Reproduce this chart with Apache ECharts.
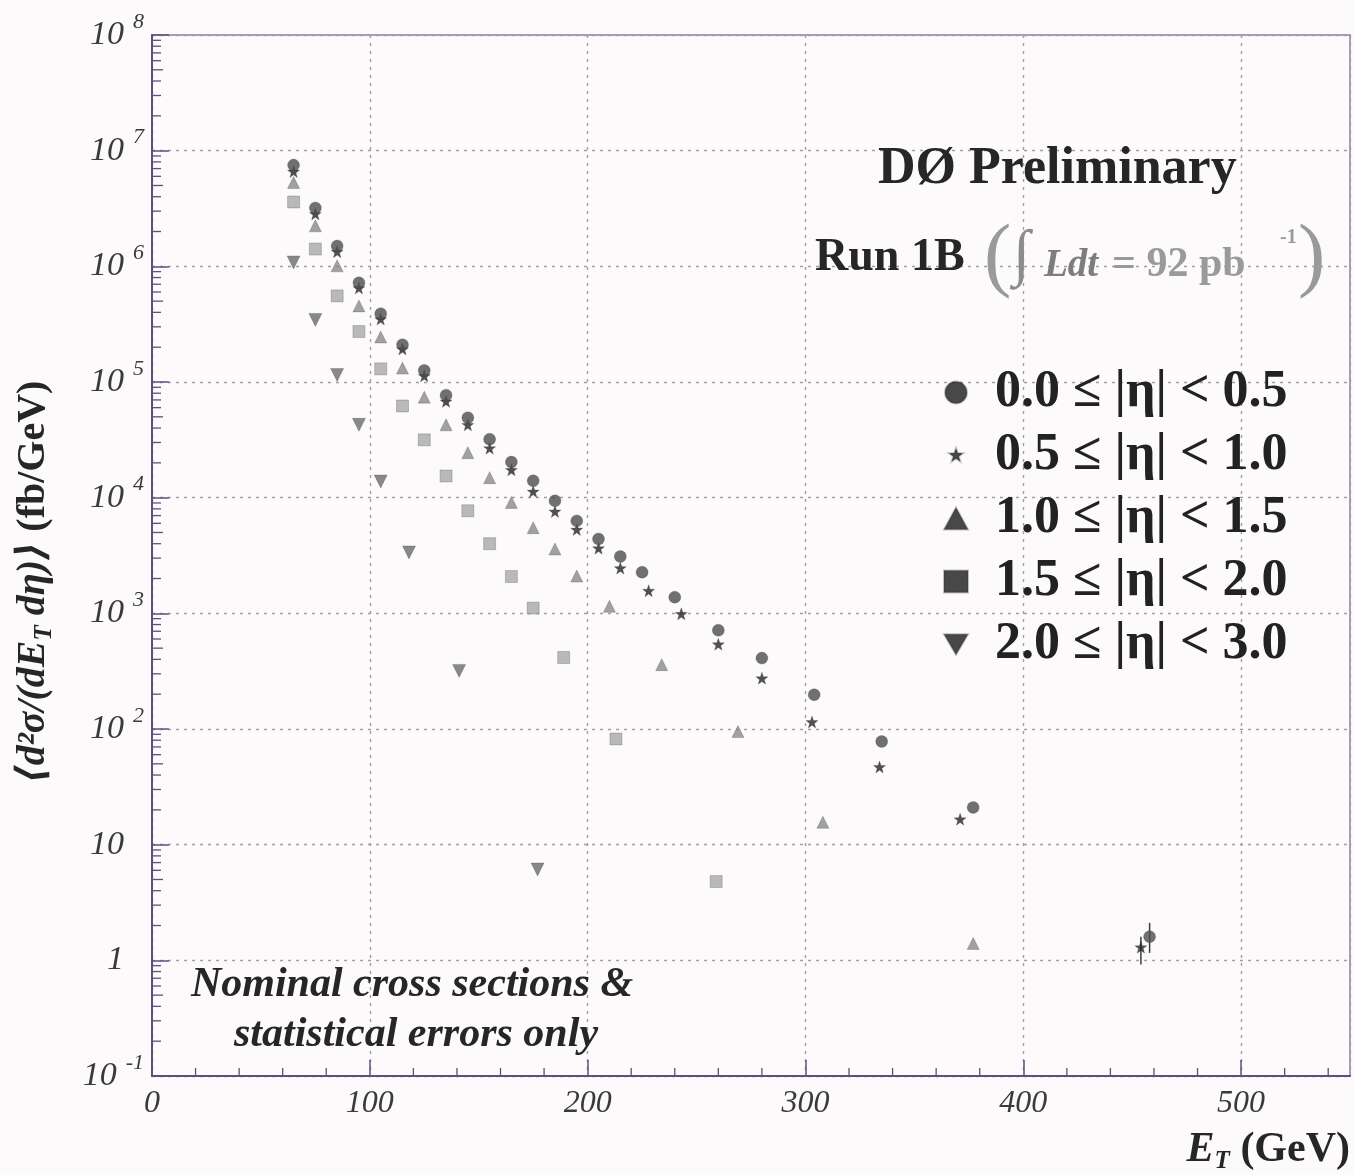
<!DOCTYPE html>
<html>
<head>
<meta charset="utf-8">
<script src="https://cdn.jsdelivr.net/npm/echarts@6/dist/echarts.min.js"></script>
<style>
  html, body { margin: 0; padding: 0; background: #fcfafa; }
  #chart { width: 1355px; height: 1175px; }
</style>
</head>
<body>
<div id="chart"></div>
<script>
// Inclusive jet cross sections vs E_T, five pseudorapidity bands (fb/GeV)
const etaLabels = [
  '0.0 \u2264 |\u03b7| < 0.5',
  '0.5 \u2264 |\u03b7| < 1.0',
  '1.0 \u2264 |\u03b7| < 1.5',
  '1.5 \u2264 |\u03b7| < 2.0',
  '2.0 \u2264 |\u03b7| < 3.0'
];

const eta00ET = [65, 75, 85, 95, 105, 115, 125, 135, 145, 155, 165, 175, 185, 195, 205, 215, 225, 240, 260, 280, 304, 335, 377, 458];
const eta00XS = [7.5e6, 3.2e6, 1.5e6, 7.2e5, 3.9e5, 2.1e5, 1.26e5, 7.7e4, 4.9e4, 3.2e4, 2.03e4, 1.4e4, 9.4e3, 6.3e3, 4.4e3, 3.1e3, 2.27e3, 1.38e3, 715, 410, 198, 78, 21, 1.6];

const eta05ET = [65, 75, 85, 95, 105, 115, 125, 135, 145, 155, 165, 175, 185, 195, 205, 215, 228, 243, 260, 280, 303, 334, 371, 454];
const eta05XS = [6.6e6, 2.84e6, 1.34e6, 6.5e5, 3.5e5, 1.93e5, 1.13e5, 6.8e4, 4.26e4, 2.68e4, 1.74e4, 1.13e4, 7.6e3, 5.3e3, 3.66e3, 2.46e3, 1.57e3, 990, 540, 275, 115, 47, 16.6, 1.3];

const eta10ET = [65, 75, 85, 95, 105, 115, 125, 135, 145, 155, 165, 175, 185, 195, 210, 234, 269, 308, 377];
const eta10XS = [5.3e6, 2.24e6, 1.01e6, 4.55e5, 2.45e5, 1.32e5, 7.4e4, 4.26e4, 2.45e4, 1.49e4, 9.1e3, 5.5e3, 3.6e3, 2.1e3, 1.15e3, 360, 95, 15.6, 1.4];

const eta15ET = [65, 75, 85, 95, 105, 115, 125, 135, 145, 155, 165, 175, 189, 213, 259];
const eta15XS = [3.6e6, 1.41e6, 5.55e5, 2.73e5, 1.3e5, 6.2e4, 3.16e4, 1.54e4, 7.7e3, 4.0e3, 2.08e3, 1.11e3, 415, 82, 4.8];

const eta20ET = [65, 75, 85, 95, 105, 118, 141, 177];
const eta20XS = [1.08e6, 3.44e5, 1.15e5, 4.26e4, 1.38e4, 3.36e3, 318, 6.1];

// statistical error bars visible on the highest-E_T points: [E_T, low, high]
const errorBars = [[458, 1.16, 2.11], [454, 0.92, 1.6]];

// axis decoration
const xTickValues = [0, 100, 200, 300, 400, 500];
const xMinorSteps = [20, 40, 60, 80];
const yDecades = [-1, 0, 1, 2, 3, 4, 5, 6, 7];
const yMinorMantissas = [2, 3, 4, 5, 6, 7, 8, 9];

const SERIF = "'Liberation Serif', 'DejaVu Serif', 'Times New Roman', serif";
const AXIS_COLOR = '#5d4f7e';
const GRID_COLOR = '#a39cb0';

const STAR = 'path://M0,-10L2.35,-3.24L9.51,-3.09L3.8,1.24L5.88,8.09L0,4L-5.88,8.09L-3.8,1.24L-9.51,-3.09L-2.35,-3.24Z';
const STAR_LEGEND = 'path://M-15,-15M15,15M0,-10L2.35,-3.24L9.51,-3.09L3.8,1.24L5.88,8.09L0,4L-5.88,8.09L-3.8,1.24L-9.51,-3.09L-2.35,-3.24Z';
const DOWN_TRI = 'path://M-10,-8L10,-8L0,9Z';

const pairs = (xs, ys) => xs.map((x, i) => [x, ys[i]]);

const xMinorTicks = [];
xTickValues.forEach(t => xMinorSteps.forEach(s => { if (t + s < 550) xMinorTicks.push([t + s, 1e8]); }));
const yMinorTicks = [];
yDecades.forEach(d => yMinorMantissas.forEach(m => yMinorTicks.push([0, m * Math.pow(10, d)])));

function scatter(name, xs, ys, symbol, size, color, z) {
  return {
    name, type: 'scatter', data: pairs(xs, ys), symbol, symbolSize: size, z,
    itemStyle: { color, borderColor: 'rgba(40,40,40,0.35)', borderWidth: 0.8 },
    emphasis: { disabled: true }
  };
}

const chart = echarts.init(document.getElementById('chart'), null, { renderer: 'canvas' });

const option = {
  backgroundColor: '#fcfafa',
  animation: false,
  grid: {
    left: 152, right: 5, top: 35, bottom: 99,
    show: true, borderColor: '#8d7f9f', borderWidth: 1.5, backgroundColor: 'transparent'
  },
  legend: {
    orient: 'vertical', left: 938, top: 356,
    itemWidth: 24, itemHeight: 22, itemGap: 0,
    selectedMode: false,
    textStyle: {
      fontFamily: SERIF, fontWeight: 'bold', fontSize: 52, color: '#222',
      lineHeight: 63, padding: [0, 0, 0, 22]
    },
    data: [
      { name: etaLabels[0], icon: 'circle', itemStyle: { color: '#1b1b1b' } },
      { name: etaLabels[1], icon: STAR_LEGEND, itemStyle: { color: '#1b1b1b' } },
      { name: etaLabels[2], icon: 'triangle', itemStyle: { color: '#1b1b1b' } },
      { name: etaLabels[3], icon: 'rect', itemStyle: { color: '#1b1b1b' } },
      { name: etaLabels[4], icon: DOWN_TRI, itemStyle: { color: '#1b1b1b' } }
    ]
  },
  xAxis: {
    type: 'value', min: 0, max: 550, interval: 100,
    axisLine: { show: true, lineStyle: { color: AXIS_COLOR, width: 2 } },
    axisTick: { show: true, inside: true, length: 16, lineStyle: { color: AXIS_COLOR, width: 1.5 } },
    minorTick: { show: false },
    splitLine: { show: true, lineStyle: { color: GRID_COLOR, width: 1.4, type: [3, 5] } },
    axisLabel: {
      showMaxLabel: false, margin: 12,
      fontFamily: SERIF, fontStyle: 'italic', fontSize: 32, color: '#3a3a3a'
    }
  },
  yAxis: {
    type: 'log', logBase: 10, min: 0.1, max: 1e8, splitNumber: 9,
    axisLine: { show: true, lineStyle: { color: AXIS_COLOR, width: 2 } },
    axisTick: { show: true, inside: true, length: 17, lineStyle: { color: AXIS_COLOR, width: 1.5 } },
    minorTick: { show: false },
    splitLine: { show: true, lineStyle: { color: GRID_COLOR, width: 1.4, type: [3, 5] } },
    axisLabel: {
      margin: 8,
      formatter: v => {
        const e = Math.round(Math.log10(v));
        if (e === 0) return '{b|1}{e|\u2007}';
        if (e === 1) return '{b|10}{e|\u2007}';
        return '{b|10}{e|' + (e < 0 ? '-' + (-e) : e) + '}';
      },
      rich: {
        b: { fontFamily: SERIF, fontStyle: 'italic', fontSize: 34, color: '#3a3a3a', lineHeight: 48 },
        e: { fontFamily: SERIF, fontStyle: 'italic', fontSize: 22, color: '#3a3a3a', verticalAlign: 'top', padding: [0, 0, 0, 9] }
      }
    }
  },
  series: [
    scatter(etaLabels[0], eta00ET, eta00XS, 'circle', 12, '#4e4e4e', 6),
    scatter(etaLabels[1], eta05ET, eta05XS, STAR, 12, '#262626', 5),
    scatter(etaLabels[2], eta10ET, eta10XS, 'triangle', 12, '#8b8b8b', 4),
    scatter(etaLabels[3], eta15ET, eta15XS, 'rect', 12, '#a9a9a9', 3),
    scatter(etaLabels[4], eta20ET, eta20XS, DOWN_TRI, 13, '#6c6c6c', 4),
    {
      // vertical statistical error bars
      type: 'custom', z: 4, silent: true, data: errorBars,
      renderItem: (params, api) => {
        const lo = api.coord([api.value(0), api.value(1)]);
        const hi = api.coord([api.value(0), api.value(2)]);
        return { type: 'line', shape: { x1: lo[0], y1: lo[1], x2: hi[0], y2: hi[1] },
                 style: { stroke: '#3c3c3c', lineWidth: 1.5 } };
      }
    },
    {
      // minor ticks along the log axis (2..9 per decade)
      type: 'custom', z: 3, silent: true, clip: false, data: yMinorTicks,
      renderItem: (params, api) => {
        const p = api.coord([api.value(0), api.value(1)]);
        const len = api.value(1) / Math.pow(10, Math.floor(Math.log10(api.value(1)) + 1e-9)) === 5 ? 11 : 9;
        return { type: 'line', shape: { x1: p[0], y1: p[1], x2: p[0] + len, y2: p[1] },
                 style: { stroke: AXIS_COLOR, lineWidth: 1.3 } };
      }
    },
    {
      // minor ticks along E_T every 20 GeV
      type: 'custom', z: 3, silent: true, clip: false, data: xMinorTicks,
      renderItem: (params, api) => {
        const p = api.coord([api.value(0), 0.1]);
        return { type: 'line', shape: { x1: p[0], y1: p[1], x2: p[0], y2: p[1] - 8 },
                 style: { stroke: AXIS_COLOR, lineWidth: 1.3 } };
      }
    }
  ],
  graphic: [
    {
      type: 'text', left: 878, top: 144, z: 10,
      style: { text: 'D\u00d8 Preliminary', font: 'bold 52px ' + SERIF, fill: '#262626' }
    },
    {
      type: 'text', left: 815, top: 235, z: 10,
      style: { text: 'Run 1B', font: 'bold 46px ' + SERIF, fill: '#262626' }
    },
    {
      type: 'text', left: 984, top: 218, z: 10,
      style: { text: '(', font: '82px ' + SERIF, fill: '#9a9a9a' }
    },
    {
      type: 'text', left: 1013, top: 226, z: 10,
      style: { text: '\u222b', font: '62px ' + SERIF, fill: '#8c8c8c' }
    },
    {
      type: 'text', left: 1044, top: 246, z: 10,
      style: { text: 'Ldt', font: 'italic bold 39px ' + SERIF, fill: '#7d7d7d' }
    },
    {
      type: 'text', left: 1112, top: 244, z: 10,
      style: { text: '= 92 pb', font: 'bold 42px ' + SERIF, fill: '#9a9a9a' }
    },
    {
      type: 'text', left: 1280, top: 228, z: 10,
      style: { text: '-1', font: 'bold 20px ' + SERIF, fill: '#9a9a9a' }
    },
    {
      type: 'text', left: 1298, top: 218, z: 10,
      style: { text: ')', font: '82px ' + SERIF, fill: '#9a9a9a' }
    },
    {
      type: 'text', x: 412, y: 985, z: 10,
      style: { text: 'Nominal cross sections &', font: 'italic bold 42px ' + SERIF, fill: '#262626',
               align: 'center', verticalAlign: 'middle' }
    },
    {
      type: 'text', x: 416, y: 1035, z: 10,
      style: { text: 'statistical errors only', font: 'italic bold 42px ' + SERIF, fill: '#262626',
               align: 'center', verticalAlign: 'middle' }
    },
    {
      type: 'text', x: 34, y: 582, rotation: Math.PI / 2, z: 10,
      style: {
        text: '{i|\u27e8d\u00b2\u03c3/(dE}{s|T}{i| d\u03b7)\u27e9}{b| (fb/GeV)}',
        align: 'center', verticalAlign: 'middle',
        rich: {
          i: { fontFamily: SERIF, fontStyle: 'italic', fontWeight: 'bold', fontSize: 40, fill: '#262626', lineHeight: 46 },
          s: { fontFamily: SERIF, fontStyle: 'italic', fontWeight: 'bold', fontSize: 25, fill: '#262626', verticalAlign: 'bottom' },
          b: { fontFamily: SERIF, fontWeight: 'bold', fontSize: 40, fill: '#262626', lineHeight: 46 }
        }
      }
    },
    {
      type: 'text', x: 1350, y: 1150, z: 10,
      style: {
        text: '{e|E}{s|T}{b| (GeV)}',
        align: 'right', verticalAlign: 'middle',
        rich: {
          e: { fontFamily: SERIF, fontStyle: 'italic', fontWeight: 'bold', fontSize: 42, fill: '#262626', lineHeight: 48 },
          s: { fontFamily: SERIF, fontStyle: 'italic', fontWeight: 'bold', fontSize: 25, fill: '#262626', verticalAlign: 'bottom' },
          b: { fontFamily: SERIF, fontWeight: 'bold', fontSize: 42, fill: '#262626', lineHeight: 48 }
        }
      }
    }
  ]
};

chart.setOption(option);
</script>
</body>
</html>
